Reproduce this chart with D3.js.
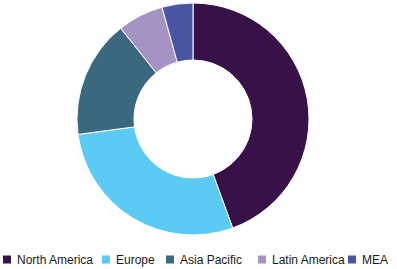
<!DOCTYPE html>
<html><head><meta charset="utf-8">
<script src="https://cdn.jsdelivr.net/npm/d3@7"></script>
<style>body{margin:0;background:#fff;}svg{display:block;}</style>
</head><body>
<svg id="c" width="397" height="269"></svg>
<script>
const categories = ["North America","Europe","Asia Pacific","Latin America","MEA"];
const values = [44.4, 28.4, 16.4, 6.4, 4.3];
const colors = ["#371147","#5BCBF5","#3A687E","#A693C5","#4A56A4"];

const svg = d3.select("#c");
const cx = 193, cy = 119, R = 116, r = 59;
const pie = d3.pie().sort(null).value(d => d.v);
const arc = d3.arc().innerRadius(r).outerRadius(R);
const data = categories.map((c,i)=>({c, v: values[i]}));
const color = d3.scaleOrdinal().domain(categories).range(colors);

svg.append("g").attr("transform",`translate(${cx},${cy})`)
  .selectAll("path").data(pie(data)).join("path")
  .attr("d", arc).attr("fill", d => color(d.data.c))
  .attr("stroke","#fff").attr("stroke-width",1);

const legendX = [3, 102, 166, 258, 348];
const lg = svg.append("g");
categories.forEach((c,i)=>{
  lg.append("rect").attr("x", legendX[i]).attr("y",255.5).attr("width",8).attr("height",8).attr("fill", color(c));
  lg.append("text").attr("x", legendX[i]+14).attr("y",264)
    .attr("font-family","Liberation Sans, Arial, sans-serif").attr("font-size",12)
    .attr("fill","#1a1a1a").text(c);
});
</script>
</body></html>
